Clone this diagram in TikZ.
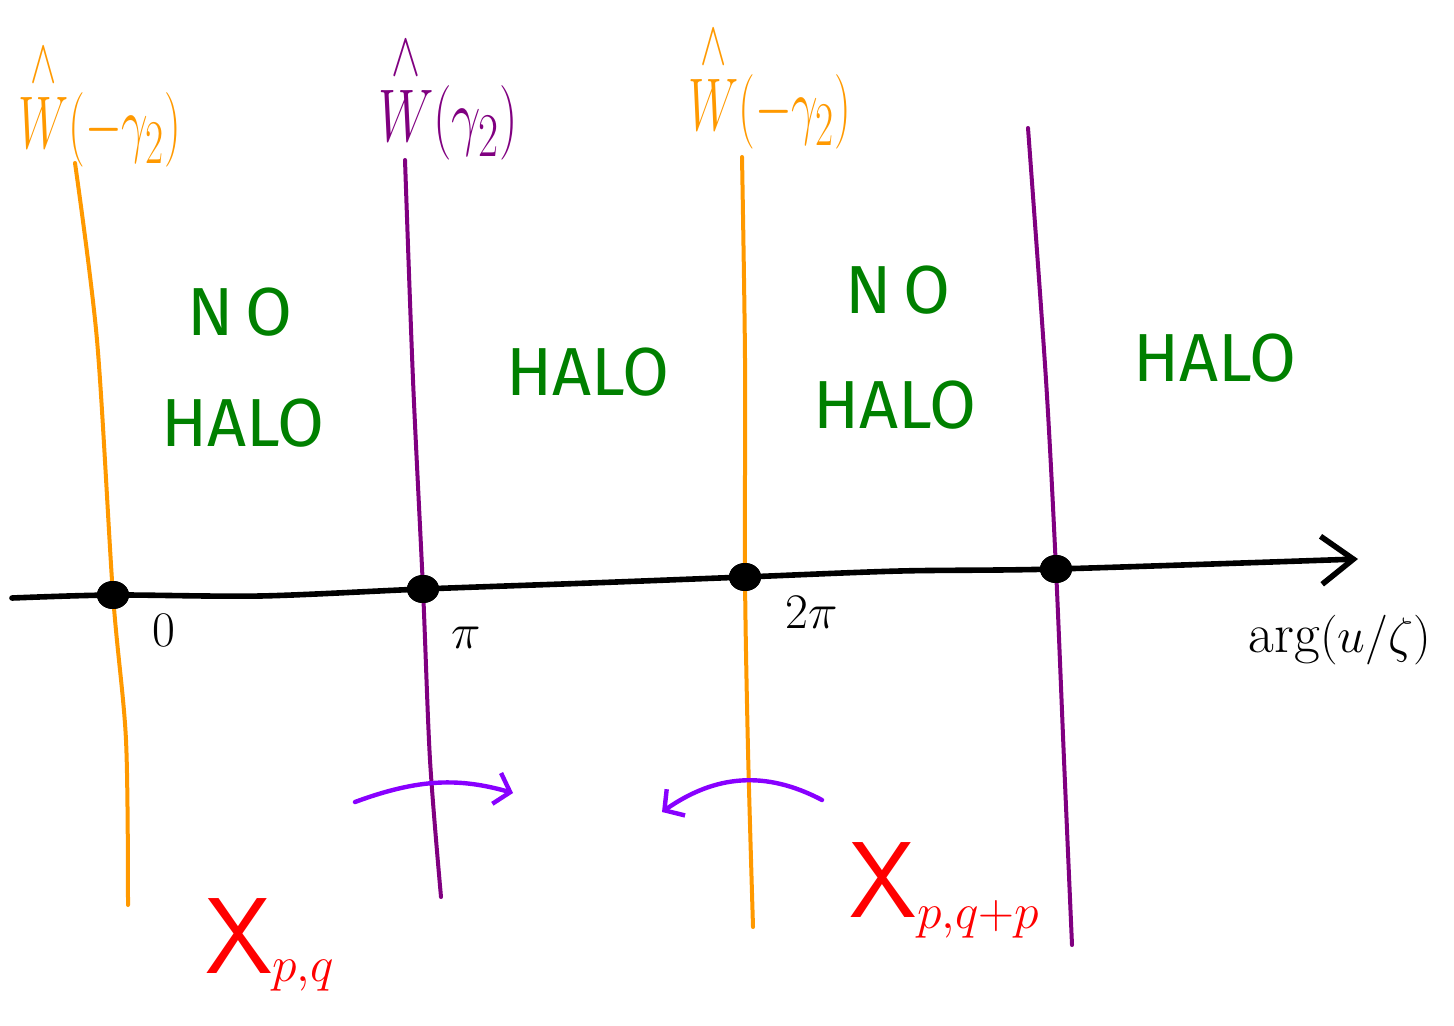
\documentclass[tikz,border=0pt]{standalone}
\usepackage{amsmath}
\usepackage{fontspec}
\newfontfamily\hand{Fira Sans}
\usetikzlibrary{arrows.meta,shapes.geometric}
\definecolor{orng}{RGB}{255,153,0}
\definecolor{purp}{RGB}{128,0,128}
\definecolor{grn}{RGB}{0,128,0}
\definecolor{viol}{RGB}{136,0,255}
\newcommand{\hatW}{\overset{\scriptstyle\wedge}{W}}
\begin{document}
\begin{tikzpicture}[x=0.5pt,y=-0.5pt,
  wall/.style={line width=2pt,line cap=round,line join=round},
  dotnode/.style={fill=black,ellipse,inner sep=0pt,minimum width=16pt,minimum height=14pt},
  halotext/.style={text=grn,font=\hand\fontsize{34}{36}\selectfont},
  walllabel/.style={font=\fontsize{28}{30}\selectfont},
  xlabel/.style={text=red,font=\fontsize{54}{56}\selectfont},
  swing/.style={viol,line width=2.2pt,line cap=round,-{Straight Barb[length=7pt,width=16pt,line width=2.2pt]}}
]
\useasboundingbox (0,0) rectangle (1454,1026);

% dots (axis crossings)
\node[dotnode] (d0) at (113,595) {};
\node[dotnode] (d1) at (423,589) {};
\node[dotnode] (d2) at (745,577) {};
\node[dotnode] (d3) at (1056,569) {};

% wall end points
\coordinate (o1t) at (75,163);  \coordinate (o1m) at (97,340); \coordinate (o1n) at (126,740); \coordinate (o1b) at (128,905);
\coordinate (p1t) at (405,160); \coordinate (p1m) at (413,380); \coordinate (p1n) at (430,760); \coordinate (p1b) at (441,897);
\coordinate (o2t) at (742,157); \coordinate (o2m) at (745,360); \coordinate (o2n) at (748,750); \coordinate (o2b) at (753,927);
\coordinate (p2t) at (1028,128); \coordinate (p2m) at (1046,380); \coordinate (p2n) at (1064,760); \coordinate (p2b) at (1072,945);

\draw[wall,orng] plot[smooth] coordinates {(o1t) (o1m) (d0.center) (o1n) (o1b)};
\draw[wall,purp] plot[smooth] coordinates {(p1t) (p1m) (d1.center) (p1n) (p1b)};
\draw[wall,orng] plot[smooth] coordinates {(o2t) (o2m) (d2.center) (o2n) (o2b)};
\draw[wall,purp] plot[smooth] coordinates {(p2t) (p2m) (d3.center) (p2n) (p2b)};

% axis
\coordinate (axL) at (12,598);
\coordinate (axA) at (260,596);
\coordinate (axB) at (590,583);
\coordinate (axC) at (900,571);
\coordinate (axR) at (1358,559);
\draw[line width=2.8pt,line cap=round,-{Straight Barb[length=16pt,width=24pt,line width=2.8pt]}]
  plot[smooth] coordinates {(axL) (d0.center) (axA) (d1.center) (axB) (d2.center) (axC) (d3.center) (axR)};
\node[dotnode] at (d0) {};
\node[dotnode] at (d1) {};
\node[dotnode] at (d2) {};
\node[dotnode] at (d3) {};

% axis labels
\node[font=\fontsize{24}{26}\selectfont] (l0) at (164,630) {$0$};
\node[font=\fontsize{30}{32}\selectfont] (lpi) at (466,638) {$\pi$};
\node[font=\fontsize{28}{30}\selectfont] (l2pi) at (812,612) {$2\pi$};
\node[font=\fontsize{28}{30}\selectfont] (larg) at (1340,640) {$\arg(u/\zeta)$};

% wall labels
\node[walllabel,text=orng] (w1) at (100,104) {\scalebox{0.95}[1.5]{$\hatW(-\gamma_2)$}};
\node[walllabel,text=purp] (w2) at (448,97) {\scalebox{1.05}[1.5]{$\hatW(\gamma_2)$}};
\node[walllabel,text=orng] (w3) at (770,86) {\scalebox{0.95}[1.5]{$\hatW(-\gamma_2)$}};

% regions
\node[halotext] (n1) at (240,312) {N\,O};
\node[halotext] (h1) at (243,423) {HALO};
\node[halotext] (h2) at (588,372) {HALO};
\node[halotext] (n2) at (898,290) {N\,O};
\node[halotext] (h3) at (895,405) {HALO};
\node[halotext] (h4) at (1215,358) {HALO};

% X labels
\node[xlabel] (x1) at (270,945) {$\mathsf{X}_{p,q}$};
\node[xlabel] (x2) at (945,890) {$\mathsf{X}_{p,q+p}$};

% swing arrows
\coordinate (s1a) at (355,802);
\coordinate (s1b) at (513,793);
\draw[swing] (s1a) .. controls (420,778) and (460,778) .. (s1b);
\coordinate (s2a) at (822,800);
\coordinate (s2b) at (662,812);
\draw[swing] (s2a) .. controls (765,770) and (715,775) .. (s2b);
\end{tikzpicture}
\end{document}
